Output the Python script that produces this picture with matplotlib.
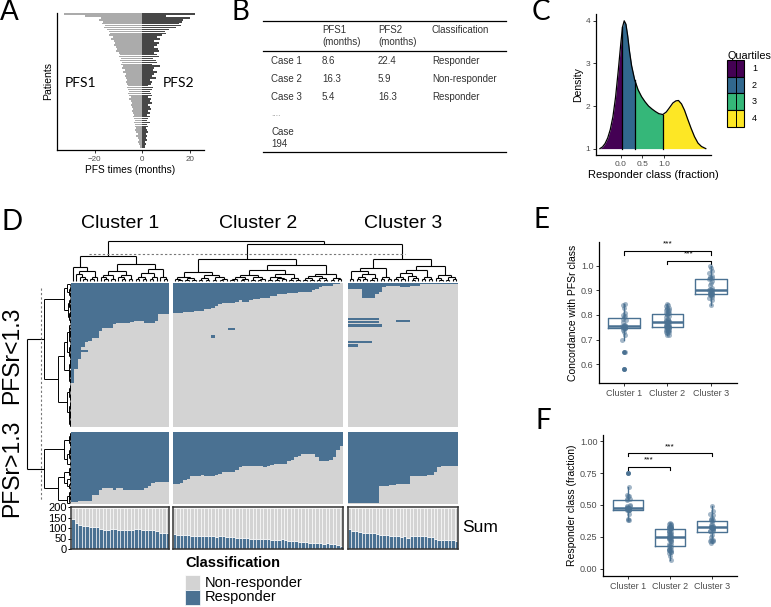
import numpy as np
import matplotlib
matplotlib.use("Agg")
from matplotlib import pyplot as plt
from matplotlib.colors import ListedColormap
from matplotlib.collections import LineCollection
from matplotlib.patches import Rectangle

W, H = 771, 607
plt.rcParams['font.family'] = ['Liberation Sans', 'DejaVu Sans']

# ---------------- data ----------------
# A: PFS per patient (top to bottom, months)
pfs1 = [33, 24, 17.5, 18, 16.5, 17, 15.5, 16, 15, 14,
        13.5, 14, 12.5, 13, 12, 11.5, 12, 11, 10.5, 11,
        10, 9.5, 10, 9, 9.5, 8.5, 9, 8, 8.5, 7.5,
        8, 7, 7.5, 7, 6.5, 7, 6.5, 6, 6.5, 6,
        5.5, 6, 5.5, 5, 5.5, 5, 4.5, 5, 4.5, 4,
        4.5, 4, 3.5, 4, 3.5, 3, 3.5, 3, 3, 2.5,
        3, 2.5, 2, 2.5, 2, 1.5, 2, 1.5, 1, 1]
pfs2 = [22, 10, 20, 17, 16.5, 15.5, 16, 14, 11, 9.5,
        10, 8, 6, 7.5, 5, 7, 6, 5, 6.5, 7,
        5, 6, 7, 4.5, 5.5, 6, 4, 7.5, 5, 4.5,
        6, 5, 4, 5.5, 3, 4, 3.5, 2.5, 4.5, 4,
        3, 3.5, 4, 2.5, 3.5, 3, 4, 2.5, 3, 3.5,
        2.5, 3, 2, 3, 2.5, 2, 3, 2, 2.5, 1.5,
        2, 2.5, 1.5, 2, 1.5, 2, 1, 1.5, 1, 1]

# B: table
table_cases = ['Case 1', 'Case 2', 'Case 3']
table_pfs1 = ['8.6', '16.3', '5.4']
table_pfs2 = ['22.4', '5.9', '16.3']
table_class = ['Responder', 'Non-responder', 'Responder']

# C: density of responder class
dens_x = [-0.48, -0.42, -0.36, -0.30, -0.24, -0.18, -0.12, -0.06, 0.00, 0.04,
          0.08, 0.12, 0.16, 0.20, 0.25, 0.32, 0.40, 0.48, 0.56, 0.64,
          0.72, 0.80, 0.88, 0.97, 1.05, 1.13, 1.20, 1.27, 1.33, 1.40,
          1.47, 1.54, 1.62, 1.70, 1.78, 1.86, 1.96]
dens_y = [1.00, 1.04, 1.12, 1.25, 1.45, 1.75, 2.20, 2.80, 3.45, 3.85,
          4.00, 3.92, 3.65, 3.30, 2.95, 2.62, 2.38, 2.22, 2.10, 2.00,
          1.93, 1.87, 1.82, 1.80, 1.86, 1.97, 2.07, 2.12, 2.13, 2.05,
          1.90, 1.70, 1.48, 1.28, 1.13, 1.05, 1.00]
quartile_cuts = [0.04, 0.32, 0.97]
quartile_labels = ['1', '2', '3', '4']
quartile_colors = ['#440154', '#31688E', '#35B779', '#FDE725']

# D: heatmap columns per cluster
cluster_names = ['Cluster 1', 'Cluster 2', 'Cluster 3']
n_upper, n_lower = 129, 65
col_sum = [
    [145, 124, 112, 110, 111, 106, 106, 104, 93, 92, 92, 97, 96, 92, 90, 91, 90, 89, 94, 95,
     92, 91, 90, 89, 84, 76, 74, 74],
    [70, 68, 68, 66, 65, 64, 64, 62, 62, 63, 64, 60, 58, 60, 62, 58, 56, 55, 54, 53,
     52, 51, 50, 49, 48, 49, 47, 46, 45, 42, 44, 48, 42, 38, 36, 38, 35, 33, 32, 30,
     29, 28, 27, 26, 28, 26, 24, 20, 14],
    [95, 88, 84, 82, 78, 75, 74, 74, 72, 68, 66, 65, 64, 62, 60, 57, 62, 52, 64, 64,
     64, 62, 60, 58, 57, 48, 44, 44, 43, 43, 42, 40],
]
# fraction of rows (from top) classed responder, PFSr<1.3 block
upper_depth = [
    [0.70, 0.60, 0.53, 0.44, 0.41, 0.40, 0.38, 0.38, 0.33, 0.31, 0.31, 0.31, 0.29, 0.28,
     0.28, 0.28, 0.28, 0.27, 0.26, 0.26, 0.26, 0.28, 0.28, 0.28, 0.26, 0.22, 0.22, 0.22],
    [0.21, 0.21, 0.21, 0.20, 0.20, 0.20, 0.19, 0.19, 0.19, 0.18, 0.18, 0.17, 0.16, 0.15,
     0.14, 0.14, 0.14, 0.14, 0.13, 0.12, 0.13, 0.13, 0.12, 0.11, 0.11, 0.10, 0.10, 0.10,
     0.09, 0.09, 0.08, 0.08, 0.08, 0.07, 0.07, 0.07, 0.06, 0.06, 0.06, 0.06, 0.05, 0.04,
     0.03, 0.02, 0.02, 0.02, 0.01, 0.01, 0.0],
    [0.04, 0.04, 0.04, 0.04, 0.10, 0.10, 0.10, 0.10, 0.08, 0.06, 0.03, 0.02, 0.02, 0.02,
     0.02, 0.03, 0.03, 0.03, 0.02, 0.02, 0.02, 0.01, 0.01, 0.01, 0.01, 0.01, 0.01, 0.01,
     0.01, 0.01, 0.01, 0.01],
]
# same for the PFSr>1.3 block
lower_depth = [
    [0.97, 0.97, 0.96, 0.96, 0.95, 0.95, 0.88, 0.87, 0.80, 0.78, 0.78, 0.78, 0.80, 0.78,
     0.78, 0.80, 0.80, 0.80, 0.80, 0.80, 0.80, 0.78, 0.75, 0.70, 0.69, 0.69, 0.69, 0.69],
    [0.72, 0.72, 0.70, 0.66, 0.64, 0.62, 0.62, 0.62, 0.60, 0.62, 0.62, 0.62, 0.60, 0.58,
     0.56, 0.56, 0.55, 0.55, 0.52, 0.50, 0.48, 0.48, 0.48, 0.48, 0.48, 0.48, 0.50, 0.48,
     0.46, 0.45, 0.45, 0.44, 0.44, 0.40, 0.38, 0.36, 0.34, 0.30, 0.30, 0.30, 0.30, 0.36,
     0.40, 0.40, 0.40, 0.38, 0.35, 0.24, 0.20],
    [0.98, 0.98, 0.98, 0.98, 0.98, 0.98, 0.98, 0.98, 0.98, 0.75, 0.75, 0.75, 0.74, 0.74,
     0.72, 0.72, 0.72, 0.72, 0.62, 0.62, 0.62, 0.62, 0.62, 0.60, 0.60, 0.55, 0.50, 0.48,
     0.48, 0.48, 0.48, 0.48],
]
# isolated responder streaks in the upper block: (cluster, first row, last row, first col, last col)
streaks = [(2, 31, 32, 0, 8), (2, 34, 35, 0, 8), (2, 37, 38, 0, 9), (2, 33, 34, 14, 17),
           (2, 52, 53, 0, 6), (2, 55, 56, 0, 2), (0, 60, 61, 3, 4),
           (1, 40, 41, 16, 17), (1, 47, 48, 11, 11)]

# E: concordance with PFSr class
concordance = [
    [0.58, 0.65, 0.70, 0.72, 0.73, 0.74, 0.745, 0.745, 0.745, 0.748, 0.75, 0.75, 0.75, 0.755,
     0.755, 0.755, 0.76, 0.76, 0.77, 0.78, 0.785, 0.79, 0.795, 0.80, 0.81, 0.83, 0.84, 0.845],
    [0.845, 0.84, 0.835, 0.83, 0.83, 0.825, 0.82, 0.82, 0.815, 0.81, 0.81, 0.81, 0.805, 0.80,
     0.795, 0.79, 0.785, 0.78, 0.78, 0.775, 0.775, 0.77, 0.77, 0.77, 0.77, 0.765, 0.765, 0.76,
     0.76, 0.76, 0.755, 0.755, 0.75, 0.75, 0.75, 0.75, 0.75, 0.745, 0.745, 0.74, 0.74, 0.74,
     0.735, 0.735, 0.73, 0.73, 0.725, 0.72, 0.72],
    [0.84, 0.86, 0.87, 0.875, 0.88, 0.88, 0.88, 0.885, 0.885, 0.885, 0.89, 0.89, 0.89, 0.895,
     0.895, 0.90, 0.90, 0.90, 0.905, 0.91, 0.92, 0.93, 0.94, 0.945, 0.95, 0.95, 0.955, 0.96,
     0.97, 0.98, 0.99, 1.0],
]
n_patients = 194

blue = '#4A7192'
grey = '#D3D3D3'
tick_col = '#4D4D4D'

fig = plt.figure(figsize=(W / 100, H / 100), dpi=100)


def px(x0, y0, x1, y1):
    return [x0 / W, 1 - y1 / H, (x1 - x0) / W, (y1 - y0) / H]


def classic(ax, fs=6.5):
    for s in ['top', 'right']:
        ax.spines[s].set_visible(False)
    for s in ['left', 'bottom']:
        ax.spines[s].set_linewidth(0.9)
    ax.tick_params(labelsize=fs, labelcolor=tick_col, color='#333333', length=2.5, width=0.7, pad=1.5)


# ---------------- A ----------------
axA = fig.add_axes(px(57, 13, 204, 150))
n = len(pfs1)
ypos = np.arange(n)[::-1]
axA.barh(ypos, -np.array(pfs1), height=0.85, color='#ABABAB', lw=0)
axA.barh(ypos, pfs2, height=0.85, color='#474747', lw=0)
axA.set_xlim(-35.8, 25.8)
axA.set_ylim(-1.2, n - 0.5)
axA.set_yticks([])
axA.set_xticks([-20, 0, 20])
axA.set_xticklabels(['\u221220', '0', '20'])
classic(axA, 5.8)
axA.set_xlabel('PFS times (months)', fontsize=7.3, labelpad=2)
axA.set_ylabel('Patients', fontsize=7.6, labelpad=3)
axA.text(-26, n * 0.48, 'PFS1', family=['Lato', 'DejaVu Sans'], fontsize=10, va='center', ha='center')
axA.text(15, n * 0.48, 'PFS2', family=['Lato', 'DejaVu Sans'], fontsize=10, va='center', ha='center')

# ---------------- C ----------------
axC = fig.add_axes(px(596, 14, 711, 155))
dx = np.array(dens_x)
dy = np.array(dens_y)
edges = [dx[0]] + quartile_cuts + [dx[-1]]
for q in range(4):
    m = (dx >= edges[q]) & (dx <= edges[q + 1])
    axC.fill_between(dx[m], 1, dy[m], color=quartile_colors[q], lw=0)
for c in quartile_cuts:
    axC.plot([c, c], [1, dy[list(dx).index(c)]], color='black', lw=0.9)
axC.plot(dx, dy, color='black', lw=0.9)
axC.set_xlim(-0.57, 2.08)
axC.set_ylim(0.85, 4.16)
axC.set_xticks([0, 0.5, 1.0])
axC.set_xticklabels(['0.0', '0.5', '1.0'])
axC.set_yticks([1, 2, 3, 4])
classic(axC, 6)
axC.set_xlabel('Responder class (fraction)', fontsize=8, labelpad=2)
axC.set_ylabel('Density', fontsize=7.5, labelpad=2)

# ---------------- D ----------------
block_x = [(71, 169), (173, 343), (348, 458)]
up_y = (283, 427)
lo_y = (432, 504)
sum_y = (507, 549)
cmap = ListedColormap([grey, blue])

mats_up, mats_lo = [], []
for b in range(3):
    nc = len(col_sum[b])
    mu = np.zeros((n_upper, nc))
    ml = np.zeros((n_lower, nc))
    for j in range(nc):
        mu[:int(round(upper_depth[b][j] * n_upper)), j] = 1
        ml[:int(round(lower_depth[b][j] * n_lower)), j] = 1
    for (cb, r0, r1, c0, c1) in streaks:
        if cb == b:
            mu[r0:r1 + 1, c0:c1 + 1] = 1
    mats_up.append(mu)
    mats_lo.append(ml)

for b in range(3):
    x0, x1 = block_x[b]
    for mat, (y0, y1) in [(mats_up[b], up_y), (mats_lo[b], lo_y)]:
        ax = fig.add_axes(px(x0, y0, x1, y1))
        ax.imshow(mat, cmap=cmap, vmin=0, vmax=1, aspect='auto', interpolation='nearest')
        ax.axis('off')
    axS = fig.add_axes(px(x0, sum_y[0], x1, sum_y[1]))
    s = np.array(col_sum[b])
    xs = np.arange(len(s))
    axS.bar(xs, s, width=1, color=blue, edgecolor='white', lw=0.4)
    axS.bar(xs, n_patients - s, bottom=s, width=1, color=grey, edgecolor='white', lw=0.4)
    axS.set_xlim(-0.5, len(s) - 0.5)
    axS.set_ylim(0, 200)
    axS.set_xticks([])
    for sp in axS.spines.values():
        sp.set_color('#333333')
        sp.set_linewidth(1.1)
    if b == 0:
        axS.set_yticks([0, 50, 100, 150, 200])
        axS.tick_params(axis='y', labelsize=8, length=2, pad=1, width=0.7)
    else:
        axS.set_yticks([])

# ---------------- E / F ----------------
def box_panel(ax, data, xlim, ylim, yticks, ylabels):
    for i, vals in enumerate(data):
        vals = np.array(vals)
        ax.boxplot(vals, positions=[i], widths=0.72, showcaps=False,
                   boxprops=dict(color=blue, lw=1), whiskerprops=dict(color=blue, lw=1),
                   medianprops=dict(color=blue, lw=1.8),
                   flierprops=dict(marker='o', markerfacecolor=blue, markeredgecolor='none', markersize=3.5))
        offs = 0.035 * np.sin(np.arange(len(vals)) * 2.4)
        ax.scatter(i + offs, vals, s=13, color=blue, alpha=0.5, lw=0, zorder=3)
    ax.set_xlim(*xlim)
    ax.set_ylim(*ylim)
    ax.set_xticks([0, 1, 2])
    ax.set_xticklabels(cluster_names)
    ax.set_yticks(yticks)
    ax.set_yticklabels(ylabels)
    classic(ax, 6.5)


def bracket(ax, xa, xb, y, tick, ty):
    ax.plot([xa, xa, xb, xb], [y - tick, y, y, y - tick], color='black', lw=0.8)
    ax.text((xa + xb) / 2, ty, '***', ha='center', va='center', fontsize=6)


axE = fig.add_axes(px(599, 242, 737, 383))
box_panel(axE, concordance, (-0.575, 2.6), (0.523, 1.097), [0.6, 0.7, 0.8, 0.9, 1.0],
          ['0.6', '0.7', '0.8', '0.9', '1.0'])
axE.set_ylabel('Concordance with PFSr class', fontsize=7.5, labelpad=2)
bracket(axE, 0, 2, 1.06, 0.014, 1.088)
bracket(axE, 1, 2, 1.02, 0.014, 1.047)

axF = fig.add_axes(px(603, 435, 737, 576))
frac = [list(np.array(v) / n_patients) for v in col_sum]
box_panel(axF, frac, (-0.6, 2.6), (-0.055, 1.047), [0, 0.25, 0.5, 0.75, 1.0],
          ['0.00', '0.25', '0.50', '0.75', '1.00'])
axF.set_ylabel('Responder class (fraction)', fontsize=7.5, labelpad=2)
bracket(axF, 0, 2, 0.906, 0.025, 0.955)
bracket(axF, 0, 1, 0.797, 0.025, 0.85)

# ---------------- overlay: labels, table, legends, dendrograms ----------------
ov = fig.add_axes([0, 0, 1, 1], zorder=10)
ov.set_xlim(0, W)
ov.set_ylim(H, 0)
ov.axis('off')

letter_font = dict(family=['Lato', 'DejaVu Sans'], fontsize=20, va='center', ha='left')
for lab, x, y in [('A', 0, 12), ('B', 232, 12), ('C', 532, 12), ('D', 1, 222), ('E', 534, 220), ('F', 536, 421)]:
    ov.text(x, y, lab, **letter_font)

# table B
tcol = '#333333'
for y in [21, 51, 152]:
    ov.plot([263, 506], [y, y], color='black', lw=0.9)
tf = dict(fontsize=7, color=tcol, va='center', ha='left')
ov.text(322, 36, 'PFS1\n(months)', linespacing=1.15, **tf)
ov.text(378, 36, 'PFS2\n(months)', linespacing=1.15, **tf)
ov.text(432, 30, 'Classification', **tf)
for i in range(3):
    y = 61 + 18 * i
    ov.text(271, y, table_cases[i], **tf)
    ov.text(322, y, table_pfs1[i], **tf)
    ov.text(378, y, table_pfs2[i], **tf)
    ov.text(432, y, table_class[i], **tf)
ov.text(271, 115, '....', fontsize=6, color='#888888', va='center', ha='left')
ov.text(271, 138, 'Case\n194', linespacing=1.15, **tf)

# legend C
ov.text(727, 56, 'Quartiles', fontsize=7.8, va='center', ha='left')
for q in range(4):
    y0 = 60 + 16.7 * q
    ov.add_patch(Rectangle((727, y0), 17, 16.7, facecolor=quartile_colors[q], edgecolor='black', lw=0.8))
    ov.plot([735.5, 735.5], [y0, y0 + 16.7], color='black', lw=0.7)
    ov.text(752, y0 + 8.3, quartile_labels[q], fontsize=6.5, va='center', ha='left')

# D texts
for b in range(3):
    ov.text(sum(block_x[b]) / 2, 223, cluster_names[b], fontsize=14, ha='center', va='center')
ov.text(12, 355, 'PFSr<1.3', fontsize=16.5, rotation=90, ha='center', va='center')
ov.text(12, 468, 'PFSr>1.3', fontsize=16.5, rotation=90, ha='center', va='center')
ov.text(462, 528, 'Sum', fontsize=12.5, ha='left', va='center')

ov.text(185, 563, 'Classification', fontsize=10.5, fontweight='bold', ha='left', va='center')
for k, (lab, colr) in enumerate([('Non-responder', grey), ('Responder', blue)]):
    ov.add_patch(Rectangle((185, 575 + 15 * k), 15, 15, facecolor=colr, edgecolor='white', lw=0.5))
    ov.text(205, 582.5 + 15 * k, lab, fontsize=10.5, ha='left', va='center')


def adjacent_tree(values, gap=0.02):
    nodes = [[i + 0.0, 0.0, float(v), 1] for i, v in enumerate(values)]
    segs = []
    while len(nodes) > 1:
        cost = [abs(nodes[k][2] - nodes[k + 1][2]) + gap * (nodes[k][3] + nodes[k + 1][3])
                for k in range(len(nodes) - 1)]
        k = int(np.argmin(cost))
        a, c = nodes[k], nodes[k + 1]
        h = max(a[1], c[1]) + cost[k]
        segs += [(a[0], a[1], a[0], h), (c[0], c[1], c[0], h), (a[0], h, c[0], h)]
        m = a[3] + c[3]
        nodes[k:k + 2] = [[(a[0] + c[0]) / 2, h, (a[2] * a[3] + c[2] * c[3]) / m, m]]
    return segs, nodes[0][0], nodes[0][1]


dend_kw = dict(colors='black', linewidths=0.8)
# column dendrogram
col_roots = []
root_px = [256, 259, 259]
leaf_px = 281
for b in range(3):
    x0, x1 = block_x[b]
    nc = len(col_sum[b])
    segs, rpos, rh = adjacent_tree(np.array(col_sum[b]) / n_patients)
    step = (x1 - x0) / nc

    def fx(p):
        return x0 + (p + 0.5) * step

    def fy(h):
        return leaf_px - (h / rh) ** 0.7 * (leaf_px - root_px[b])
    lines = [[(fx(a), fy(ha)), (fx(c), fy(hc))] for a, ha, c, hc in segs]
    ov.add_collection(LineCollection(lines, **dend_kw))
    col_roots.append(fx(rpos))
mid23 = (col_roots[1] + col_roots[2]) / 2
top_lines = [[(col_roots[1], root_px[1]), (col_roots[1], 244)], [(col_roots[2], root_px[2]), (col_roots[2], 244)],
             [(col_roots[1], 244), (col_roots[2], 244)], [(mid23, 244), (mid23, 241)],
             [(col_roots[0], root_px[0]), (col_roots[0], 241)], [(col_roots[0], 241), (mid23, 241)]]
ov.add_collection(LineCollection(top_lines, **dend_kw))
ov.plot([89, 405], [254, 254], color='#777777', lw=0.8, ls=(0, (2, 2)))

# row dendrogram
row_roots = []
leaf_x = 70
for blk, (y0, y1), nrow in [(0, up_y, n_upper), (1, lo_y, n_lower)]:
    mats = mats_up if blk == 0 else mats_lo
    counts = sum(m.sum(axis=1) for m in mats) / 109
    segs, rpos, rh = adjacent_tree(counts, gap=0.01)
    step = (y1 - y0) / nrow

    def fy(p):
        return y0 + (p + 0.5) * step

    def fx(h):
        return leaf_x - (h / rh) ** 1.4 * (leaf_x - 44)
    lines = [[(fx(ha), fy(a)), (fx(hc), fy(c))] for a, ha, c, hc in segs]
    ov.add_collection(LineCollection(lines, colors='black', linewidths=0.7))
    row_roots.append(fy(rpos))
row_top = [[(44, row_roots[0]), (27, row_roots[0])], [(44, row_roots[1]), (27, row_roots[1])],
           [(27, row_roots[0]), (27, row_roots[1])]]
ov.add_collection(LineCollection(row_top, **dend_kw))
ov.plot([41, 41], [288, 500], color='#777777', lw=0.8, ls=(0, (2, 2)))

fig.savefig('out.png', dpi=100)
